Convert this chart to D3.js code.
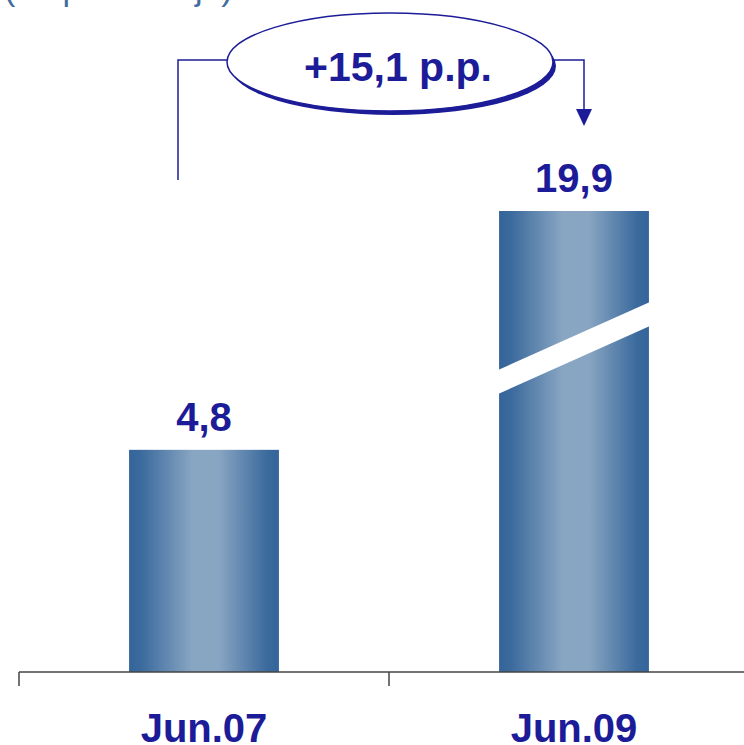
<!DOCTYPE html>
<html>
<head>
<meta charset="utf-8">
<script src="https://cdn.jsdelivr.net/npm/d3@7"></script>
<style>
  body { margin: 0; background: #fff; }
  svg { display: block; }
</style>
</head>
<body>
<script>
'use strict';

var categories = ["Jun.07", "Jun.09"];
var values = [4.8, 19.9];
var changeLabel = "+15,1 p.p.";
var subtitle = "(en porcentaje)";
var breakValue = 7;

var width = 744;
var height = 745;
var baseY = 672;
var navy = "#1c1c98";

var svg = d3.select("body").append("svg")
    .attr("width", width)
    .attr("height", height);

var defs = svg.append("defs");
var grad = defs.append("linearGradient")
    .attr("id", "barGrad")
    .attr("x1", "0%").attr("x2", "100%")
    .attr("y1", "0%").attr("y2", "0%");
[[0, "#34649a"], [0.08, "#3b6a9d"], [0.42, "#88a5c2"], [0.6, "#88a5c2"], [0.92, "#3b6a9d"], [1, "#34649a"]]
    .forEach(function (s) {
        grad.append("stop").attr("offset", s[0]).attr("stop-color", s[1]);
    });

// category slots, ticks sit on the slot boundaries
var x = d3.scaleBand()
    .domain(categories)
    .range([19, 759])
    .padding(0);

var barW = x.bandwidth() * 0.405;

// broken axis: linear up to breakValue, compressed above it
var y = d3.scaleLinear()
    .domain([0, breakValue, d3.max(values)])
    .range([baseY, 348, 211]);

var fmt = function (v) { return d3.format(".1f")(v).replace(".", ","); };

// subtitle, mostly cut off at the top
svg.append("text")
    .attr("x", 4)
    .attr("y", 0)
    .attr("font-family", "Liberation Sans, Arial, sans-serif")
    .attr("font-size", 34)
    .attr("fill", "#3f6e9f")
    .text(subtitle);

var bars = svg.selectAll("g.bar")
    .data(categories)
    .enter().append("g")
    .attr("class", "bar");

bars.append("rect")
    .attr("x", function (d) { return x(d) + x.bandwidth() / 2 - barW / 2; })
    .attr("y", function (d, i) { return y(values[i]); })
    .attr("width", barW)
    .attr("height", function (d, i) { return baseY - y(values[i]); })
    .attr("fill", "url(#barGrad)");

// white slanted break on bars that pass the break value
bars.filter(function (d, i) { return values[i] > breakValue; })
    .append("polygon")
    .attr("fill", "#fff")
    .attr("points", function (d) {
        var x0 = x(d) + x.bandwidth() / 2 - barW / 2 - 1;
        var x1 = x0 + barW + 2;
        var yc = y(breakValue);
        var rise = 34;
        var th = 12;
        return [[x0, yc + rise - th], [x1, yc - rise - th], [x1, yc - rise + th], [x0, yc + rise + th]]
            .map(function (p) { return p.join(","); }).join(" ");
    });

bars.append("text")
    .attr("x", function (d) { return x(d) + x.bandwidth() / 2; })
    .attr("y", function (d, i) { return y(values[i]) - 19; })
    .attr("text-anchor", "middle")
    .attr("font-family", "Liberation Sans, Arial, sans-serif")
    .attr("font-weight", "bold")
    .attr("font-size", 40)
    .attr("fill", navy)
    .text(function (d, i) { return fmt(values[i]); });

// axis line and ticks
svg.append("line")
    .attr("x1", x.range()[0]).attr("x2", x.range()[1])
    .attr("y1", baseY).attr("y2", baseY)
    .attr("stroke", "#444").attr("stroke-width", 1.5);

svg.selectAll("line.tick")
    .data(categories)
    .enter().append("line")
    .attr("class", "tick")
    .attr("x1", function (d) { return x(d); })
    .attr("x2", function (d) { return x(d); })
    .attr("y1", baseY).attr("y2", baseY + 14)
    .attr("stroke", "#444").attr("stroke-width", 1.5);

svg.selectAll("text.cat")
    .data(categories)
    .enter().append("text")
    .attr("class", "cat")
    .attr("x", function (d) { return x(d) + x.bandwidth() / 2; })
    .attr("y", 742)
    .attr("text-anchor", "middle")
    .attr("font-family", "Liberation Sans, Arial, sans-serif")
    .attr("font-weight", "bold")
    .attr("font-size", 40)
    .attr("fill", navy)
    .text(function (d) { return d; });

// change annotation
var c0 = x(categories[0]) + x.bandwidth() / 2;
var c1 = x(categories[1]) + x.bandwidth() / 2;
var ann = svg.append("g");
var ex = 390, ey = 62, rx = 163, ry = 49;

ann.append("path")
    .attr("d", "M" + (c0 - 26) + ",180V60H" + (ex - rx))
    .attr("fill", "none").attr("stroke", navy).attr("stroke-width", 1.5);
ann.append("path")
    .attr("d", "M" + (ex + rx) + ",60H" + (c1 + 10) + "V112")
    .attr("fill", "none").attr("stroke", navy).attr("stroke-width", 1.5);
ann.append("path")
    .attr("d", "M" + (c1 + 2) + ",109L" + (c1 + 18) + ",109L" + (c1 + 10) + ",126Z")
    .attr("fill", navy);

ann.append("ellipse")
    .attr("cx", ex + 3).attr("cy", ey + 4)
    .attr("rx", rx).attr("ry", ry)
    .attr("fill", navy);
ann.append("ellipse")
    .attr("cx", ex).attr("cy", ey)
    .attr("rx", rx).attr("ry", ry)
    .attr("fill", "#fff")
    .attr("stroke", navy).attr("stroke-width", 1.5);

ann.append("text")
    .attr("x", ex + 8)
    .attr("y", ey + 19)
    .attr("text-anchor", "middle")
    .attr("font-family", "Liberation Sans, Arial, sans-serif")
    .attr("font-weight", "bold")
    .attr("font-size", 41)
    .attr("fill", navy)
    .text(changeLabel);
</script>
</body>
</html>
